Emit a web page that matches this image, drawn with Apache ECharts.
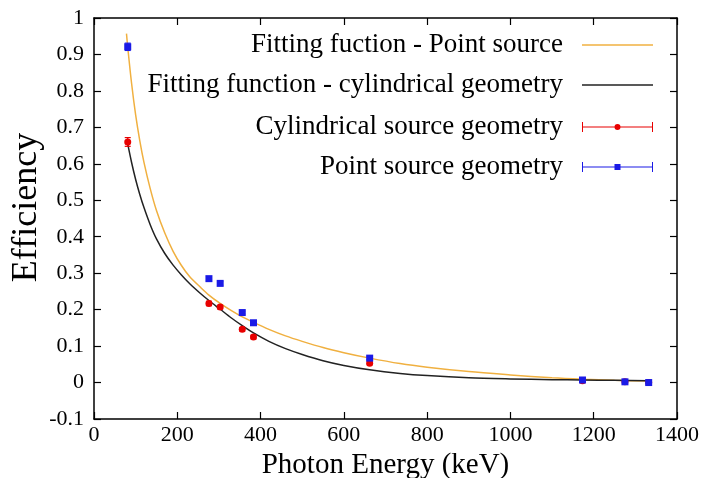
<!DOCTYPE html>
<html>
<head>
<meta charset="utf-8">
<script src="https://cdn.jsdelivr.net/npm/echarts@6/dist/echarts.min.js"></script>
<style>html,body{margin:0;padding:0;background:#fff}#c{width:705px;height:478px}</style>
</head>
<body>
<div id="c"></div>
<script>
// measured data points
const energies = [81, 276, 303, 356, 383, 662, 1173, 1275, 1332];
const cylEff = [0.660, 0.217, 0.207, 0.146, 0.125, 0.053, 0.005, 0.002, 0.000];
const cylErr = [0.012, 0.006, 0.005, 0.005, 0.005, 0.004, 0.003, 0.003, 0.003];
const ptEff = [0.921, 0.285, 0.272, 0.192, 0.164, 0.067, 0.007, 0.002, 0.000];
const ptErr = [0.010, 0.005, 0.005, 0.004, 0.004, 0.004, 0.003, 0.003, 0.003];

// fitting curves
const fitPtE = [78, 81, 90, 100, 110, 120, 135, 150, 170, 190, 210, 230, 255, 276, 303, 330, 356, 383, 420, 460, 500, 550, 600, 662, 735, 800, 900, 1000, 1100, 1173, 1250, 1332];
const fitPt  = [0.957, 0.92, 0.823, 0.734, 0.663, 0.604, 0.532, 0.472, 0.410, 0.360, 0.321, 0.290, 0.262, 0.240, 0.217, 0.197, 0.180, 0.165, 0.146, 0.128, 0.113, 0.096, 0.082, 0.067, 0.052, 0.042, 0.030, 0.021, 0.013, 0.009, 0.006, 0.004];
const fitCylE = [80, 90, 100, 110, 120, 135, 150, 170, 190, 210, 230, 255, 276, 303, 330, 356, 383, 420, 460, 500, 550, 600, 662, 735, 800, 900, 1000, 1100, 1173, 1250, 1332];
const fitCyl  = [0.660, 0.605, 0.557, 0.516, 0.480, 0.433, 0.394, 0.354, 0.322, 0.295, 0.271, 0.245, 0.225, 0.201, 0.177, 0.156, 0.136, 0.113, 0.093, 0.077, 0.060, 0.047, 0.035, 0.025, 0.019, 0.013, 0.010, 0.008, 0.007, 0.006, 0.005];

const xTicks = [0, 200, 400, 600, 800, 1000, 1200, 1400];
const yTicks = [-0.1, 0, 0.1, 0.2, 0.3, 0.4, 0.5, 0.6, 0.7, 0.8, 0.9, 1];

const names = ['Fitting fuction - Point source', 'Fitting function - cylindrical geometry', 'Cylindrical source geometry', 'Point source geometry'];
const colors = {orange: '#f0b040', black: '#222222', red: '#e80000', blue: '#1a1ae6'};

const FONT = "'Liberation Serif', 'DejaVu Serif', serif";
const chart = echarts.init(document.getElementById('c'), null, {renderer: 'canvas'});

function errBar(color) {
  return function (params, api) {
    const x = api.value(0), y = api.value(1), e = api.value(2);
    const t = api.coord([x, y + e]);
    const b = api.coord([x, y - e]);
    const w = 3;
    const st = {stroke: color, lineWidth: 1.2, fill: null};
    return {type: 'group', children: [
      {type: 'line', shape: {x1: t[0], y1: t[1], x2: b[0], y2: b[1]}, style: st},
      {type: 'line', shape: {x1: t[0] - w, y1: t[1], x2: t[0] + w, y2: t[1]}, style: st},
      {type: 'line', shape: {x1: b[0] - w, y1: b[1], x2: b[0] + w, y2: b[1]}, style: st}
    ]};
  };
}

const lineIcon = 'path://M0,0 L71,0 L71,1.5 L0,1.5 Z';
const redIcon = 'path://M0,0 L1,0 L1,10 L0,10 Z M0,4.4 L71,4.4 L71,5.6 L0,5.6 Z M70,0 L71,0 L71,10 L70,10 Z M32.5,5 A3,3 0 1,1 38.5,5 A3,3 0 1,1 32.5,5 Z';
const blueIcon = 'path://M0,0 L1,0 L1,10 L0,10 Z M0,4.4 L71,4.4 L71,5.6 L0,5.6 Z M70,0 L71,0 L71,10 L70,10 Z M32.5,2 L38.5,2 L38.5,8 L32.5,8 Z';

const legendCenters = [45, 85, 127, 167];
const icons = [lineIcon, lineIcon, redIcon, blueIcon];
const iconH = [1.5, 1.5, 10, 10];
const legends = names.map((n, i) => ({
  data: [n], orient: 'vertical', align: 'right', right: 52, top: legendCenters[i] - 15,
  padding: 0, itemWidth: 71, itemHeight: iconH[i], icon: icons[i], selectedMode: false,
  itemStyle: {borderWidth: 0},
  textStyle: {fontFamily: FONT, fontSize: 27, color: '#000', lineHeight: 30, padding: [0, 14, 0, 0]}
}));

const axisCommon = {
  type: 'value',
  axisLine: {show: true, onZero: false, lineStyle: {color: '#000', width: 1.5}},
  axisTick: {show: true, inside: true, length: 7, lineStyle: {color: '#000', width: 1.2}},
  splitLine: {show: false}
};

chart.setOption({
  animation: false,
  backgroundColor: '#fff',
  grid: {left: 94, right: 28, top: 18, bottom: 59, containLabel: false, outerBoundsMode: 'none'},
  legend: legends,
  xAxis: [
    Object.assign({}, axisCommon, {
      min: xTicks[0], max: xTicks[xTicks.length - 1], interval: xTicks[1] - xTicks[0], position: 'bottom',
      axisLabel: {fontFamily: FONT, fontSize: 22, color: '#000', margin: 5, formatter: v => String(v)},
      name: 'Photon Energy (keV)', nameLocation: 'middle', nameGap: 24,
      nameTextStyle: {fontFamily: FONT, fontSize: 29, color: '#000'}
    }),
    Object.assign({}, axisCommon, {
      min: xTicks[0], max: xTicks[xTicks.length - 1], interval: xTicks[1] - xTicks[0], position: 'top',
      axisLabel: {show: false}
    })
  ],
  yAxis: [
    Object.assign({}, axisCommon, {
      min: yTicks[0], max: yTicks[yTicks.length - 1], interval: 0.1, position: 'left',
      axisLabel: {fontFamily: FONT, fontSize: 22, color: '#000', margin: 10,
        formatter: v => String(Math.round(v * 10) / 10)},
      name: 'Efficiency', nameLocation: 'middle', nameGap: 49, nameMoveOverlap: false,
      nameTextStyle: {fontFamily: FONT, fontSize: 36, color: '#000', padding: [0, 0, 0, 22]}
    }),
    Object.assign({}, axisCommon, {
      min: yTicks[0], max: yTicks[yTicks.length - 1], interval: 0.1, position: 'right',
      axisLabel: {show: false}
    })
  ],
  series: [
    {
      name: names[0], type: 'line', xAxisIndex: 0, yAxisIndex: 0, smooth: 0.3, showSymbol: false,
      color: colors.orange, lineStyle: {color: colors.orange, width: 1.5},
      data: fitPtE.map((e, i) => [e, fitPt[i]]), z: 3
    },
    {
      name: names[1], type: 'line', xAxisIndex: 0, yAxisIndex: 0, smooth: 0.3, showSymbol: false,
      color: colors.black, lineStyle: {color: colors.black, width: 1.5},
      data: fitCylE.map((e, i) => [e, fitCyl[i]]), z: 3
    },
    {
      name: 'cylErr', type: 'custom', renderItem: errBar(colors.red), z: 4,
      data: energies.map((e, i) => [e, cylEff[i], cylErr[i]])
    },
    {
      name: names[2], type: 'scatter', symbol: 'circle', symbolSize: 7, z: 5,
      color: colors.red, itemStyle: {color: colors.red, opacity: 1},
      data: energies.map((e, i) => [e, cylEff[i]])
    },
    {
      name: 'ptErr', type: 'custom', renderItem: errBar(colors.blue), z: 6,
      data: energies.map((e, i) => [e, ptEff[i], ptErr[i]])
    },
    {
      name: names[3], type: 'scatter', symbol: 'rect', symbolSize: 7, z: 7,
      color: colors.blue, itemStyle: {color: colors.blue, opacity: 1},
      data: energies.map((e, i) => [e, ptEff[i]])
    }
  ]
});
</script>
</body>
</html>
